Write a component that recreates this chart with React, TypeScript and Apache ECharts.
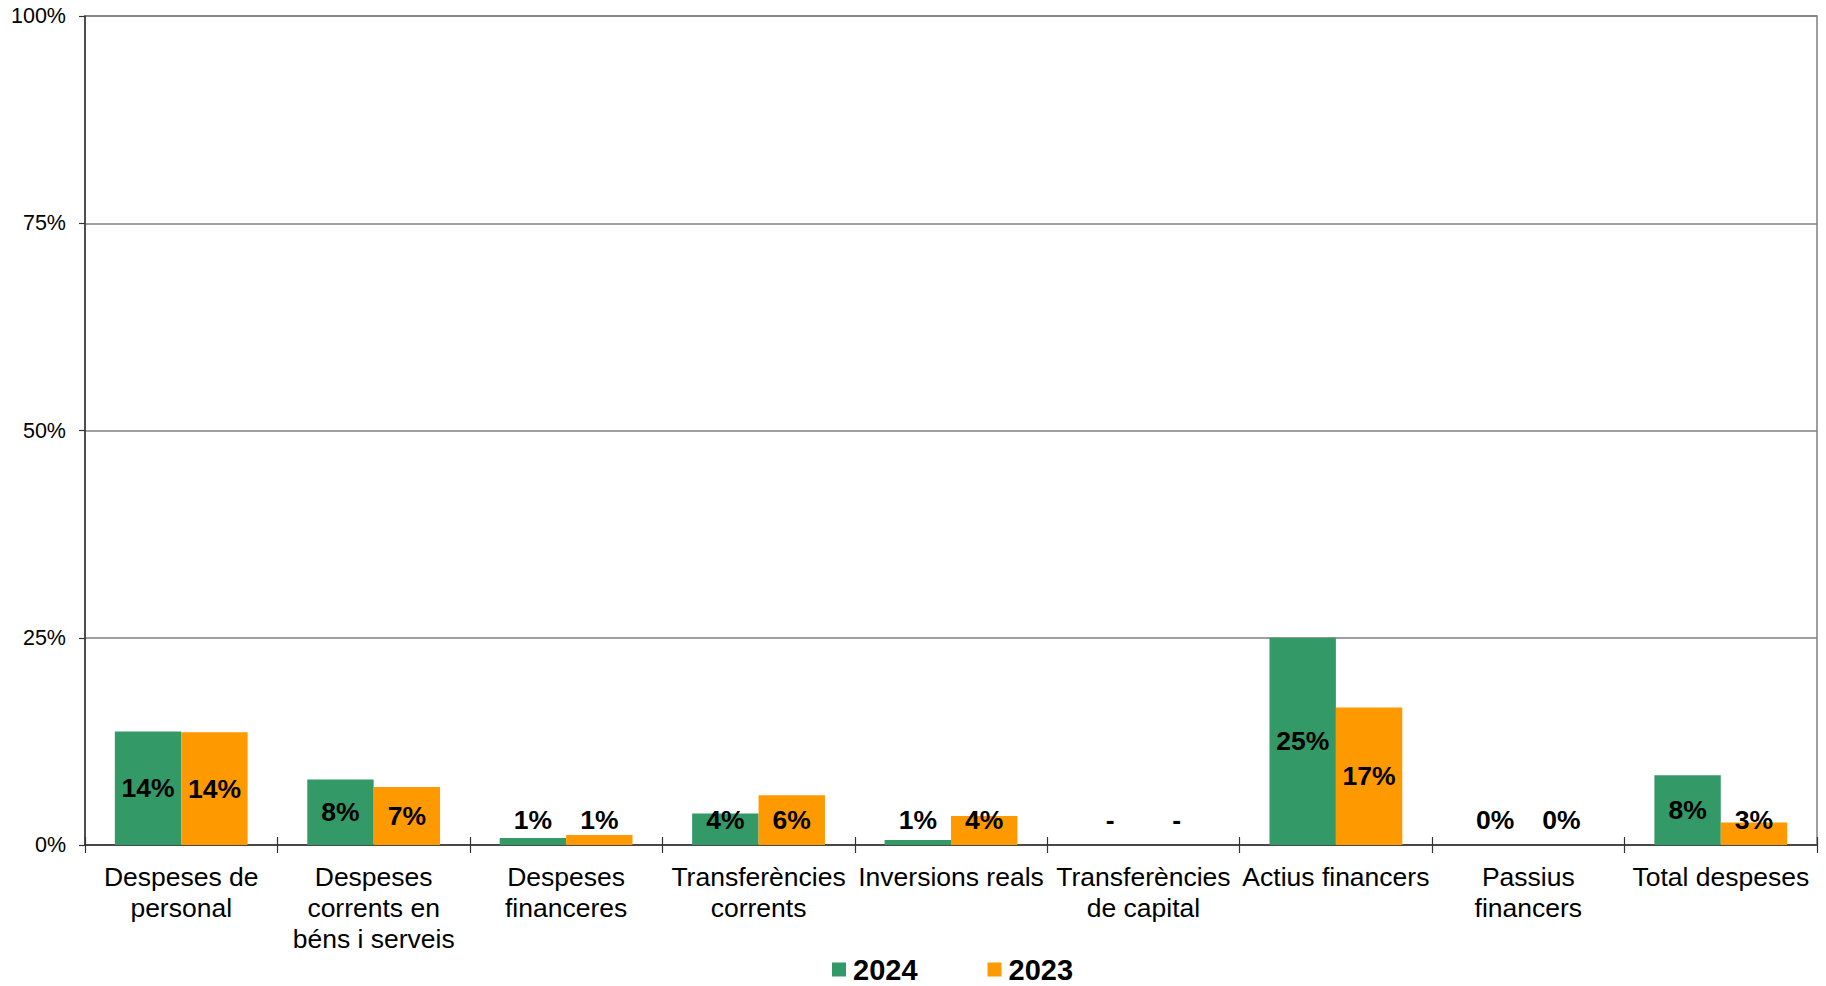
import React, { useEffect, useRef } from "react";
import * as echarts from "echarts";

const categories: string[] = [
  "Despeses de\npersonal",
  "Despeses\ncorrents en\nbéns i serveis",
  "Despeses\nfinanceres",
  "Transferències\ncorrents",
  "Inversions reals",
  "Transferències\nde capital",
  "Actius financers",
  "Passius\nfinancers",
  "Total despeses",
];

const values2024: (number | null)[] = [13.7, 7.9, 0.85, 3.8, 0.6, null, 25.0, 0, 8.4];
const values2023: (number | null)[] = [13.6, 7.0, 1.2, 6.0, 3.5, null, 16.6, 0, 2.7];

const yTicks = [0, 25, 50, 75, 100];

const FONT = "'Liberation Sans', Arial, sans-serif";

function buildData(vals: (number | null)[]) {
  return vals.map((v) => {
    const val = v == null ? 0 : v;
    const small = val < 6;
    return {
      value: val,
      missing: v == null,
      label: small
        ? { position: "insideBottom", distance: 12 }
        : { position: "inside" },
    };
  });
}

export default function App() {
  const ref = useRef<HTMLDivElement>(null);
  useEffect(() => {
    if (!ref.current) return;
    const chart = echarts.init(ref.current, null, { renderer: "svg" });
    const labelFmt = (p: any) =>
      p.data && p.data.missing ? "-" : Math.round(p.value) + "%";
    const seriesLabel = {
      show: true,
      formatter: labelFmt,
      color: "#000",
      fontFamily: FONT,
      fontWeight: "bold",
      fontSize: 26.5,
      lineHeight: 26,
    };
    chart.setOption({
      animation: false,
      backgroundColor: "#fff",
      grid: {
        left: 85,
        right: 9,
        top: 16,
        bottom: 141,
        show: true,
        borderColor: "#808080",
        borderWidth: 1.5,
        backgroundColor: "transparent",
      },
      legend: {
        data: ["2024", "2023"],
        left: 832,
        top: 955,
        padding: 0,
        itemGap: 70,
        itemWidth: 14,
        itemHeight: 14,
        icon: "rect",
        textStyle: {
          fontFamily: FONT,
          fontWeight: "bold",
          fontSize: 29,
          color: "#000",
          padding: [0, 0, 0, 2],
        },
      },
      xAxis: [
        {
          type: "category",
          data: categories,
          axisLine: { show: true, lineStyle: { color: "#333", width: 1.5 } },
          axisTick: { show: true, length: 8, lineStyle: { color: "#333", width: 1.2 } },
          axisLabel: {
            interval: 0,
            margin: 16,
            color: "#000",
            fontFamily: FONT,
            fontSize: 26.5,
            lineHeight: 31,
            align: "center",
          },
          splitLine: { show: false },
        },
        {
          type: "category",
          data: categories,
          position: "bottom",
          axisLine: { show: false },
          axisTick: { show: true, inside: true, length: 8, lineStyle: { color: "#333", width: 1.2 } },
          axisLabel: { show: false },
          splitLine: { show: false },
        },
      ],
      yAxis: {
        type: "value",
        min: yTicks[0],
        max: yTicks[yTicks.length - 1],
        interval: 25,
        axisLine: { show: true, lineStyle: { color: "#333", width: 1.5 } },
        axisTick: { show: true, length: 6, lineStyle: { color: "#333", width: 1.2 } },
        axisLabel: {
          formatter: "{value}%",
          margin: 19,
          color: "#000",
          fontFamily: FONT,
          fontSize: 21.5,
        },
        splitLine: { show: true, lineStyle: { color: "#7f7f7f", width: 1.5 } },
      },
      series: [
        {
          name: "2024",
          type: "bar",
          xAxisIndex: 0,
          data: buildData(values2024),
          itemStyle: { color: "#339966" },
          barGap: "0%",
          barCategoryGap: "31%",
          label: seriesLabel,
        },
        {
          name: "2023",
          type: "bar",
          xAxisIndex: 0,
          data: buildData(values2023),
          itemStyle: { color: "#FF9900" },
          barGap: "0%",
          barCategoryGap: "31%",
          label: seriesLabel,
        },
      ],
    });
    return () => chart.dispose();
  }, []);
  return (
    <div
      ref={ref}
      style={{ position: "fixed", left: 0, top: 0, width: 1826, height: 986 }}
    />
  );
}
